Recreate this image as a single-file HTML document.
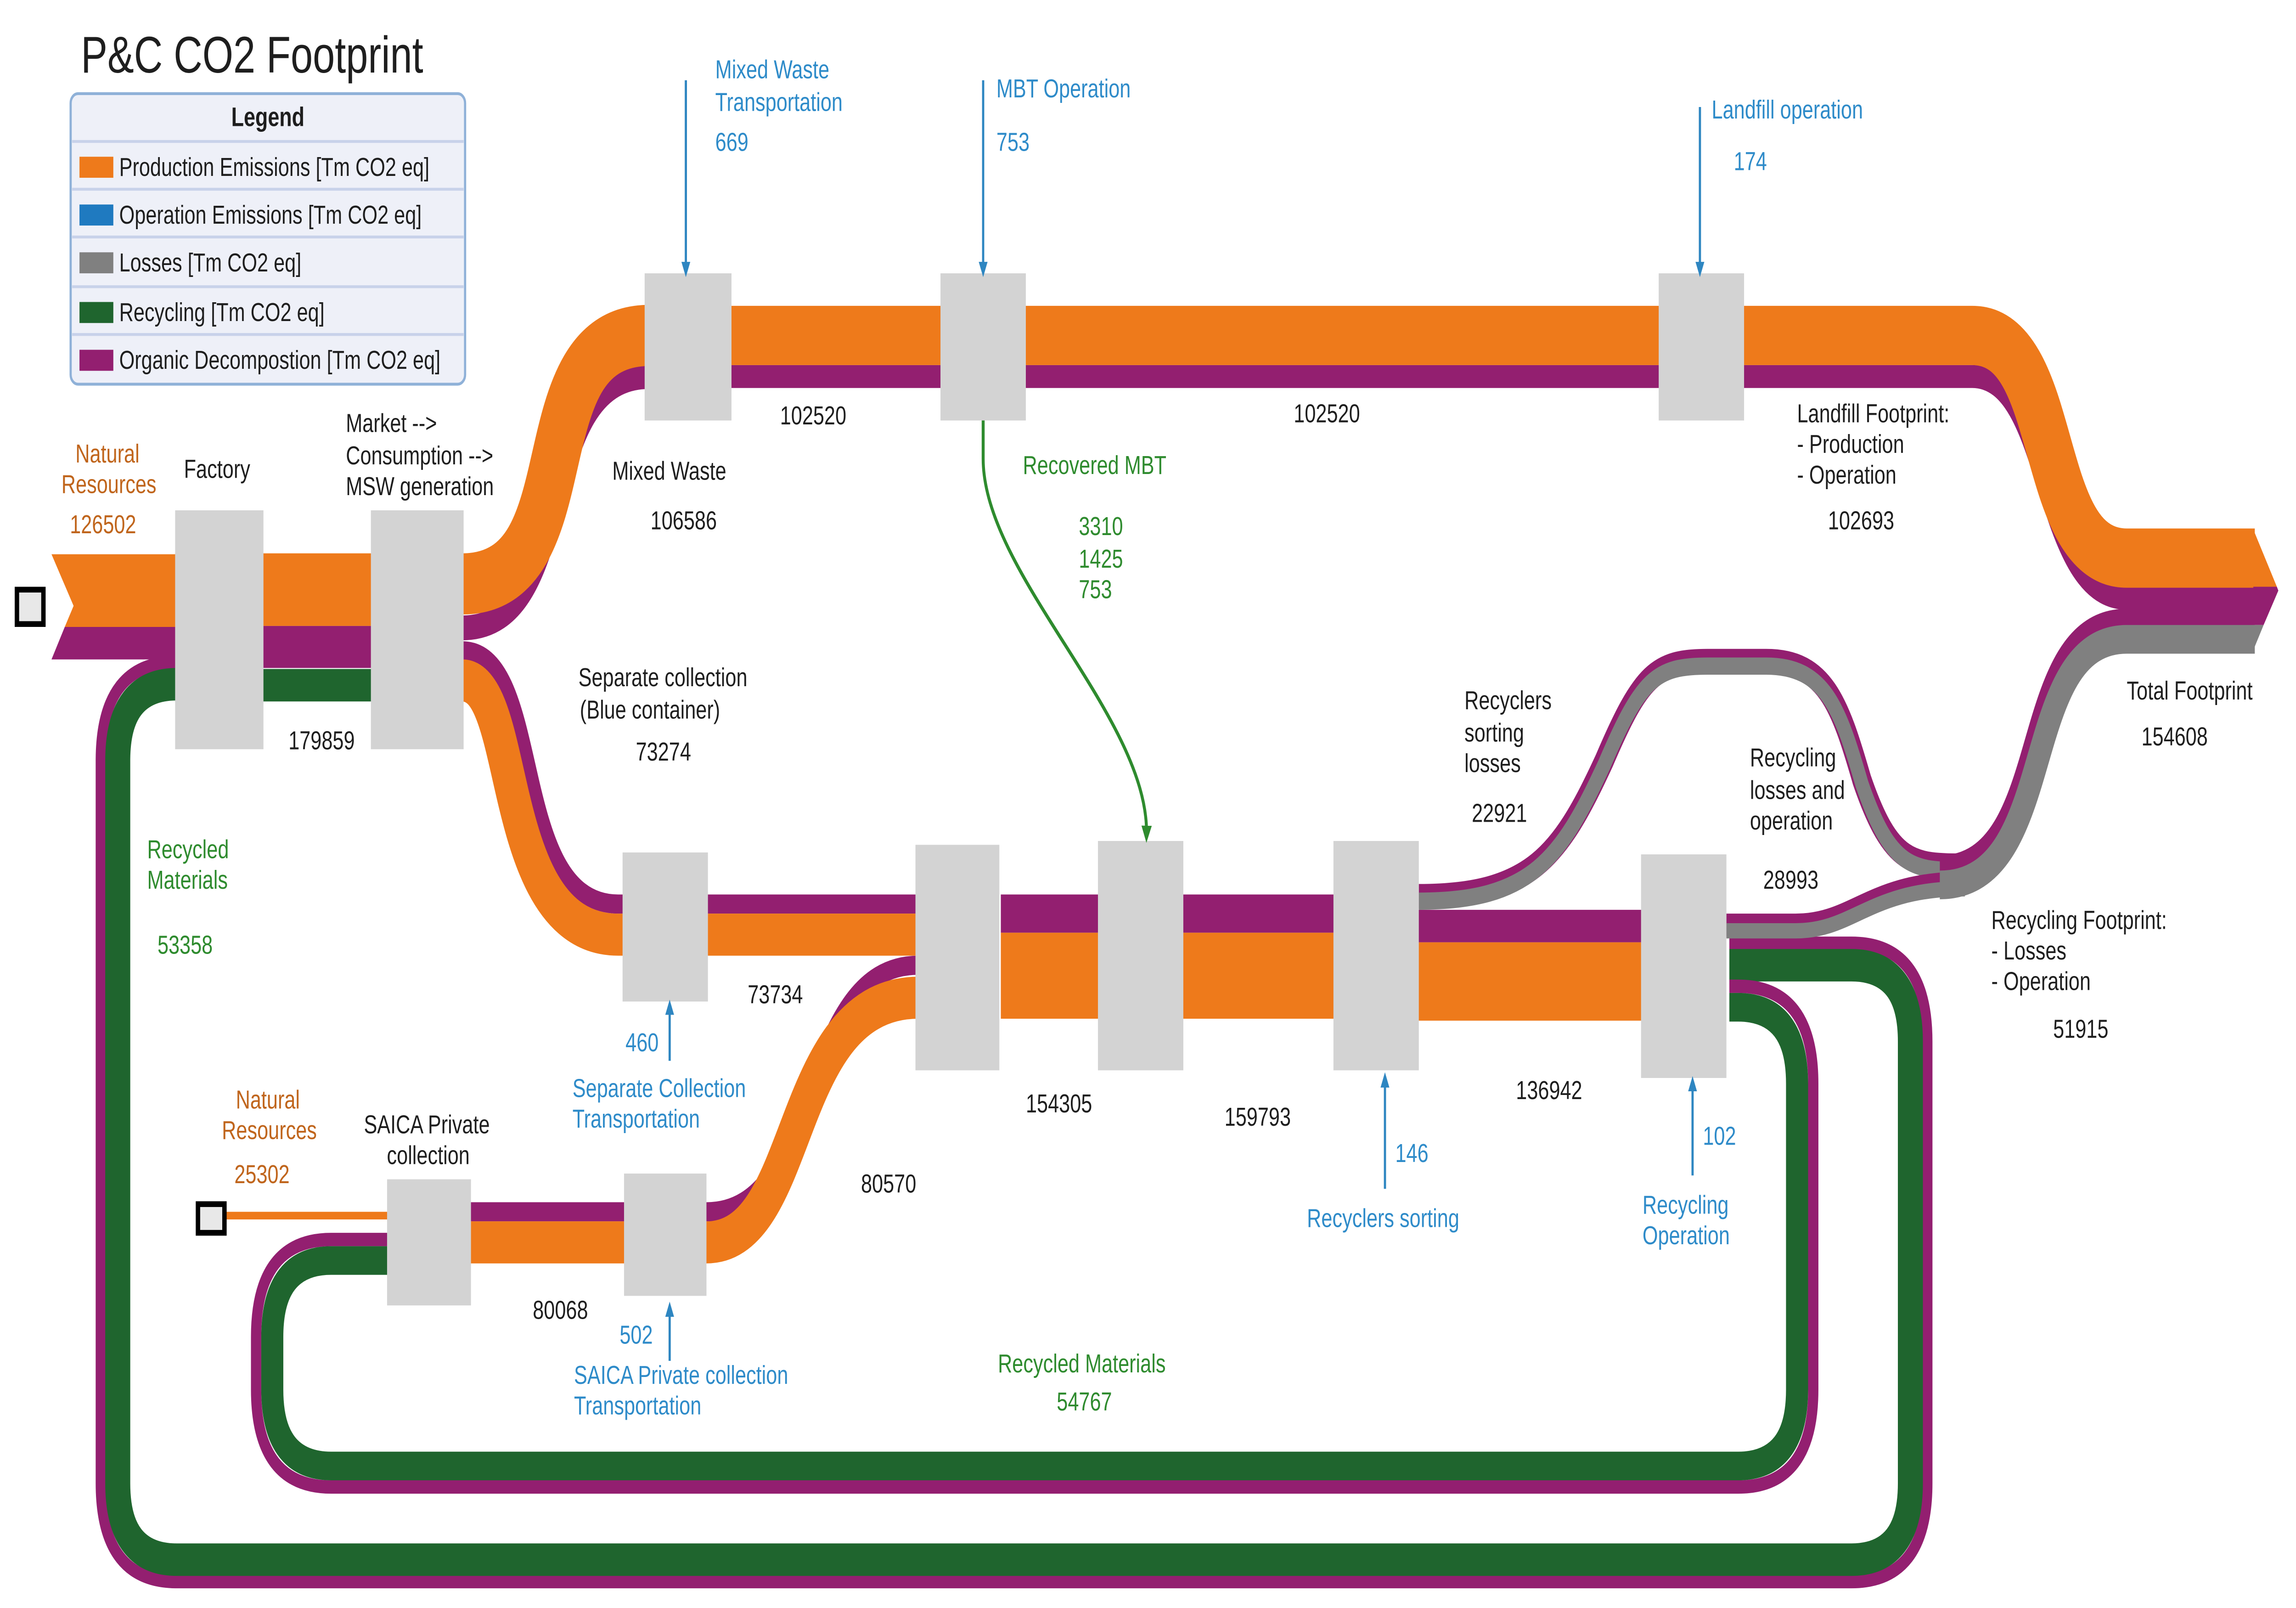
<!DOCTYPE html>
<html><head><meta charset="utf-8"><style>
html,body{margin:0;padding:0;background:#fff;width:100%;height:100%;overflow:hidden;}
svg{display:block;position:absolute;left:0;top:0;width:100vw;height:100vh;}
text{font-family:"Liberation Sans",sans-serif;font-size:13.5px;}
.b{fill:#1e1e1e}.bl{fill:#2e8bc9}.or{fill:#c0651c}.gr{fill:#2e8b2e}
</style></head><body>
<svg viewBox="0 0 1560 841.3" preserveAspectRatio="none" xmlns="http://www.w3.org/2000/svg">
<defs>
<marker id="ab" markerWidth="8" markerHeight="8" refX="4" refY="4" orient="auto" markerUnits="userSpaceOnUse"><path d="M0,1 L8,4 L0,7 z" fill="#2e86c1"/></marker>
<marker id="ag" markerWidth="9" markerHeight="9" refX="4" refY="4.5" orient="auto" markerUnits="userSpaceOnUse"><path d="M0,1 L9,4.5 L0,8 z" fill="#2e8b2e"/></marker>
</defs>
<rect width="1560" height="842" fill="#fff"/>
<g fill="none" stroke-linecap="butt">
<path d="M1175,493.5 L1258,493.5 Q1309.5,493.5 1309.5,545 L1309.5,776 Q1309.5,827.5 1258,827.5 L120,827.5 Q68.5,827.5 68.5,776 L68.5,398 Q68.5,346.5 120,346.5" stroke="#931f70" stroke-width="7"/>
<path d="M1175,505 L1258,505 Q1298,505 1298,545 L1298,776 Q1298,816 1258,816 L120,816 Q80,816 80,776 L80,398 Q80,358 120,358" stroke="#1f652e" stroke-width="17"/>
<path d="M1175,516 L1181,516 Q1232,516 1232,567 L1232,727 Q1232,778 1181,778 L225,778 Q174,778 174,727 L174,699.5 Q174,648.5 225,648.5 L264,648.5" stroke="#931f70" stroke-width="7"/>
<path d="M1175,527 L1181,527 Q1221,527 1221,567 L1221,727 Q1221,767 1181,767 L225,767 Q185,767 185,727 L185,699.5 Q185,659.5 225,659.5 L264,659.5" stroke="#1f652e" stroke-width="15"/>
<path d="M119,308.5 L253,308.5" stroke="#ee7a1b" stroke-width="38"/>
<path d="M119,338.5 L253,338.5" stroke="#931f70" stroke-width="22"/>
<path d="M119,358.5 L253,358.5" stroke="#1f652e" stroke-width="17"/>
<path d="M314,328.5 C395,328.5 360,197 441,197" stroke="#931f70" stroke-width="13"/>
<path d="M314,305.5 C402,305.5 352,175.5 441,175.5" stroke="#ee7a1b" stroke-width="32"/>
<path d="M438,197 L1340,197 C1395,197 1385,313 1445,313 L1532,313" stroke="#931f70" stroke-width="12"/>
<path d="M438,175.5 L1340,175.5 C1402,175.5 1382,292 1445,292 L1532,292" stroke="#ee7a1b" stroke-width="31"/>
<path d="M314,340.5 C372,340.5 345,473 420,473 L626,473" stroke="#931f70" stroke-width="10"/>
<path d="M314,356 C355,356 335,489 420,489 L626,489" stroke="#ee7a1b" stroke-width="22"/>
<path d="M153,636 L265,636" stroke="#ee7a1b" stroke-width="4"/>
<path d="M318,634 L480,634 C560,634 540,505 624,505" stroke="#931f70" stroke-width="10"/>
<path d="M318,650 L480,650 C548,650 532,522 624,522" stroke="#ee7a1b" stroke-width="22"/>
<path d="M680,478 L910,478" stroke="#931f70" stroke-width="20"/>
<path d="M680,510.5 L910,510.5" stroke="#ee7a1b" stroke-width="45"/>
<path d="M962,484.5 L1118,484.5" stroke="#931f70" stroke-width="17"/>
<path d="M962,513.5 L1118,513.5" stroke="#ee7a1b" stroke-width="41"/>
<path d="M964,469 C1040,469 1060,448 1090,398 C1115,353 1125,346 1160,346 L1200,346 C1240,346 1250,368 1265,408 C1285,453 1300,453 1335,453" stroke="#931f70" stroke-width="13"/>
<path d="M964,471.5 C1040,471.5 1060,450 1090,400 C1115,355 1125,348.5 1160,348.5 L1200,348.5 C1240,348.5 1250,370 1265,410 C1285,455 1300,455.5 1335,455.5" stroke="#808080" stroke-width="9"/>
<path d="M1173,484 L1220,484 C1260,484 1270,462 1335,462" stroke="#931f70" stroke-width="12"/>
<path d="M1173,487 L1220,487 C1260,487 1270,465 1335,465" stroke="#808080" stroke-width="8"/>
<path d="M1318,452 C1395,452 1365,323 1445,323 L1532,323" stroke="#931f70" stroke-width="9"/>
<path d="M1318,463 C1400,463 1370,334.5 1445,334.5 L1532,334.5" stroke="#808080" stroke-width="15"/>
</g>
<polygon points="35,290 120,290 120,328 44,328 50,317" fill="#ee7a1b"/>
<polygon points="44,328 120,328 120,345 35,345" fill="#931f70"/>
<rect x="11.5" y="308.5" width="18" height="18" fill="#e8e8e8" stroke="#000" stroke-width="3"/>
<rect x="134.5" y="630" width="18" height="15" fill="#e8e8e8" stroke="#000" stroke-width="3"/>
<polygon points="1531,277 1547,307 1531,307" fill="#ee7a1b"/>
<polygon points="1531,307 1547,307 1548,309 1538,327 1531,327" fill="#931f70"/>
<polygon points="1531,327 1538,327 1530,342" fill="#808080"/>
<g fill="#d3d3d3">
<rect x="119" y="267" width="60" height="125"/>
<rect x="252" y="267" width="63" height="125"/>
<rect x="438" y="143" width="59" height="77"/>
<rect x="639" y="143" width="58" height="77"/>
<rect x="1127" y="143" width="58" height="77"/>
<rect x="423" y="446" width="58" height="78"/>
<rect x="622" y="442" width="57" height="118"/>
<rect x="746" y="440" width="58" height="120"/>
<rect x="906" y="440" width="58" height="120"/>
<rect x="1115" y="447" width="58" height="117"/>
<rect x="263" y="617" width="57" height="66"/>
<rect x="424" y="614" width="56" height="64"/>
</g>
<g stroke="#2e86c1" stroke-width="1.5" fill="none">
<line x1="466" y1="42" x2="466" y2="141" marker-end="url(#ab)"/>
<line x1="668" y1="42" x2="668" y2="141" marker-end="url(#ab)"/>
<line x1="1155" y1="56" x2="1155" y2="141" marker-end="url(#ab)"/>
<line x1="455" y1="555" x2="455" y2="527" marker-end="url(#ab)"/>
<line x1="455" y1="712" x2="455" y2="685" marker-end="url(#ab)"/>
<line x1="941" y1="622" x2="941" y2="565" marker-end="url(#ab)"/>
<line x1="1150" y1="615" x2="1150" y2="567" marker-end="url(#ab)"/>
</g>
<path d="M668,220 L668,240 C668,300 780,375 779,436" stroke="#2e8b2e" stroke-width="2" fill="none" marker-end="url(#ag)"/>
<rect x="48" y="49" width="268" height="152" rx="5" fill="#eef0f8" stroke="#8fb1d8" stroke-width="1.5"/>
<g stroke="#c8d2ea" stroke-width="1.5">
<line x1="49" y1="74" x2="315" y2="74"/><line x1="49" y1="99" x2="315" y2="99"/><line x1="49" y1="124" x2="315" y2="124"/><line x1="49" y1="150" x2="315" y2="150"/><line x1="49" y1="175" x2="315" y2="175"/>
</g>
<text x="182" y="66" text-anchor="middle" style="font-weight:bold;font-size:14px" class="b">Legend</text>
<rect x="54" y="82" width="23" height="11" fill="#ee7a1b"/>
<rect x="54" y="107" width="23" height="11" fill="#1f7ac0"/>
<rect x="54" y="132" width="23" height="11" fill="#808080"/>
<rect x="54" y="158" width="23" height="11" fill="#1f652e"/>
<rect x="54" y="183" width="23" height="11" fill="#931f70"/>
<g class="b">
<text x="81" y="92">Production Emissions [Tm CO2 eq]</text>
<text x="81" y="117">Operation Emissions [Tm CO2 eq]</text>
<text x="81" y="142">Losses [Tm CO2 eq]</text>
<text x="81" y="168">Recycling [Tm CO2 eq]</text>
<text x="81" y="193">Organic Decompostion [Tm CO2 eq]</text>
</g>
<text x="55" y="38" style="font-size:27px" class="b">P&amp;C CO2 Footprint</text>
<g class="or" text-anchor="middle">
<text x="73" y="242">Natural</text><text x="74" y="258">Resources</text><text x="70" y="279">126502</text>
<text x="182" y="580">Natural</text><text x="183" y="596">Resources</text><text x="178" y="619">25302</text>
</g>
<g class="b">
<text x="125" y="250">Factory</text>
<text x="235" y="226">Market --&gt;</text><text x="235" y="243">Consumption --&gt;</text><text x="235" y="259">MSW generation</text>
<text x="196" y="392">179859</text>
<text x="416" y="251">Mixed Waste</text><text x="442" y="277">106586</text>
<text x="530" y="222">102520</text><text x="879" y="221">102520</text>
<text x="1221" y="221">Landfill Footprint:</text><text x="1221" y="237">- Production</text><text x="1221" y="253">- Operation</text><text x="1242" y="277">102693</text>
<text x="393" y="359">Separate collection</text><text x="394" y="376">(Blue container)</text><text x="432" y="398">73274</text>
<text x="508" y="525">73734</text>
<text x="290" y="593" text-anchor="middle">SAICA Private</text><text x="291" y="609" text-anchor="middle">collection</text>
<text x="362" y="690">80068</text>
<text x="585" y="624">80570</text>
<text x="697" y="582">154305</text><text x="832" y="589">159793</text>
<text x="995" y="371">Recyclers</text><text x="995" y="388">sorting</text><text x="995" y="404">losses</text><text x="1000" y="430">22921</text>
<text x="1030" y="575">136942</text>
<text x="1189" y="401">Recycling</text><text x="1189" y="418">losses and</text><text x="1189" y="434">operation</text><text x="1198" y="465">28993</text>
<text x="1445" y="366">Total Footprint</text><text x="1455" y="390">154608</text>
<text x="1353" y="486">Recycling Footprint:</text><text x="1353" y="502">- Losses</text><text x="1353" y="518">- Operation</text><text x="1395" y="543">51915</text>
</g>
<g class="bl">
<text x="486" y="41">Mixed Waste</text><text x="486" y="58">Transportation</text><text x="486" y="79">669</text>
<text x="677" y="51">MBT Operation</text><text x="677" y="79">753</text>
<text x="1163" y="62">Landfill operation</text><text x="1178" y="89">174</text>
<text x="425" y="550">460</text><text x="389" y="574">Separate Collection</text><text x="389" y="590">Transportation</text>
<text x="421" y="703">502</text><text x="390" y="724">SAICA Private collection</text><text x="390" y="740">Transportation</text>
<text x="948" y="608">146</text><text x="888" y="642">Recyclers sorting</text>
<text x="1157" y="599">102</text><text x="1116" y="635">Recycling</text><text x="1116" y="651">Operation</text>
</g>
<g class="gr">
<text x="695" y="248">Recovered MBT</text><text x="733" y="280">3310</text><text x="733" y="297">1425</text><text x="733" y="313">753</text>
<text x="100" y="449">Recycled</text><text x="100" y="465">Materials</text><text x="107" y="499">53358</text>
<text x="678" y="718">Recycled Materials</text><text x="718" y="738">54767</text>
</g>
</svg>
</body></html>
